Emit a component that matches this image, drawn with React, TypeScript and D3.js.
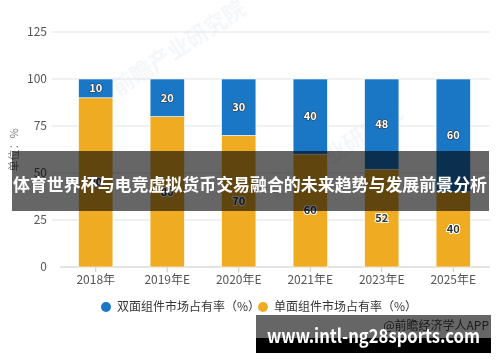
import * as d3 from "d3";

const years = ["2018年", "2019年E", "2020年E", "2021年E", "2023年E", "2025年E"];
const doubleShare = [10, 20, 30, 40, 48, 60];
const singleShare = [90, 80, 70, 60, 52, 40];
const yTicks = [0, 25, 50, 75, 100, 125];
const seriesNames = ["双面组件市场占有率（%）", "单面组件市场占有率（%）"];
const title = "体育世界杯与电竞虚拟货币交易融合的未来趋势与发展前景分析";
const site = "www.intl-ng28sports.com";

const BLUE = "#1a77c5";
const ORANGE = "#efac23";
const FONT = "'Noto Sans CJK SC', 'Noto Sans', sans-serif";

const App = () => {
  const width = 500;
  const height = 362;

  const x = d3.scaleBand().domain(years).range([60, 489]).paddingInner(0.52).paddingOuter(0.26);
  const y = d3.scaleLinear().domain([0, 125]).range([267, 32]);

  const rows = years.map((yr, i) => ({ yr, double: doubleShare[i], single: singleShare[i] }));
  const stack = d3.stack<any>().keys(["single", "double"]);
  const layers = stack(rows);
  const colors: Record<string, string> = { single: ORANGE, double: BLUE };

  return (
    <svg
      width={width}
      height={height}
      style={{ position: "absolute", left: 0, top: 0, background: "#fff" }}
      fontFamily={FONT}
    >
      {/* watermarks */}
      <g opacity={0.07} fill="#5a7fa8" fontWeight="bold">
        <text transform="translate(118,96) rotate(-33)" fontSize={22}>前瞻产业研究院</text>
        <text transform="translate(275,200) rotate(-33)" fontSize={22}>前瞻产业研究院</text>
      </g>

      {/* grid */}
      {yTicks.map((t) => (
        <g key={t}>
          {t > 0 && <line x1={52} x2={490} y1={y(t)} y2={y(t)} stroke="#e3e3e3" />}
          <text x={47} y={y(t)} dy="0.35em" textAnchor="end" fontSize={12} fill="#555">
            {t}
          </text>
        </g>
      ))}
      <line x1={60} x2={490} y1={y(0)} y2={y(0)} stroke="#c8c8c8" />
      {years.map((yr) => {
        const cx = (x(yr) ?? 0) + x.bandwidth() / 2;
        return (
          <g key={yr}>
            <line x1={cx} x2={cx} y1={y(0)} y2={y(0) + 5} stroke="#c8c8c8" />
            <text x={cx} y={284} textAnchor="middle" fontSize={12} fill="#555">
              {yr}
            </text>
          </g>
        );
      })}

      <text transform="translate(18,150) rotate(-90)" textAnchor="middle" fontSize={11} fill="#777">
        单位：%
      </text>

      {/* bars */}
      {layers.map((layer) =>
        layer.map((d, i) => (
          <rect
            key={layer.key + i}
            x={x(d.data.yr)}
            width={x.bandwidth()}
            y={y(d[1])}
            height={y(d[0]) - y(d[1])}
            fill={colors[layer.key]}
            stroke="#fff"
            strokeWidth={0.6}
          />
        ))
      )}
      {layers.map((layer) =>
        layer.map((d, i) => {
          const isBlue = layer.key === "double";
          return (
            <text
              key={"l" + layer.key + i}
              x={(x(d.data.yr) ?? 0) + x.bandwidth() / 2}
              y={y((d[0] + d[1]) / 2)}
              dy="0.35em"
              textAnchor="middle"
              fontSize={11}
              fontWeight="bold"
              fill={isBlue ? "#fff" : "#333"}
              stroke={isBlue ? "#333" : "#fff"}
              strokeWidth={isBlue ? 1.2 : 2}
              paintOrder="stroke"
            >
              {layer.key === "double" ? doubleShare[i] : singleShare[i]}
            </text>
          );
        })
      )}

      {/* legend */}
      <circle cx={106} cy={307} r={5} fill={BLUE} />
      <text x={117} y={307} dy="0.35em" fontSize={12} fill="#333">{seriesNames[0]}</text>
      <circle cx={263} cy={307} r={5} fill={ORANGE} />
      <text x={274} y={307} dy="0.35em" fontSize={12} fill="#333">{seriesNames[1]}</text>

      <text x={489} y={330} textAnchor="end" fontSize={12} fill="#444">@前瞻经济学人APP</text>

      {/* title banner */}
      <rect x={12} y={151} width={477} height={60} fill="rgba(0,0,0,0.6)" />
      <text
        x={250}
        y={191}
        textAnchor="middle"
        fontSize={17}
        fontWeight="bold"
        fill="#fff"
        textLength={474}
        lengthAdjust="spacingAndGlyphs"
      >
        {title}
      </text>

      {/* site banner */}
      <rect x={256} y={315} width={235} height={23} fill="rgba(0,0,0,0.6)" />
      <rect x={256} y={338} width={235} height={15} fill="#000" />
      <text
        x={267}
        y={343}
        fontSize={19}
        fontWeight="bold"
        fill="#fff"
        textLength={213}
        lengthAdjust="spacingAndGlyphs"
      >
        {site}
      </text>
    </svg>
  );
};

export default App;
